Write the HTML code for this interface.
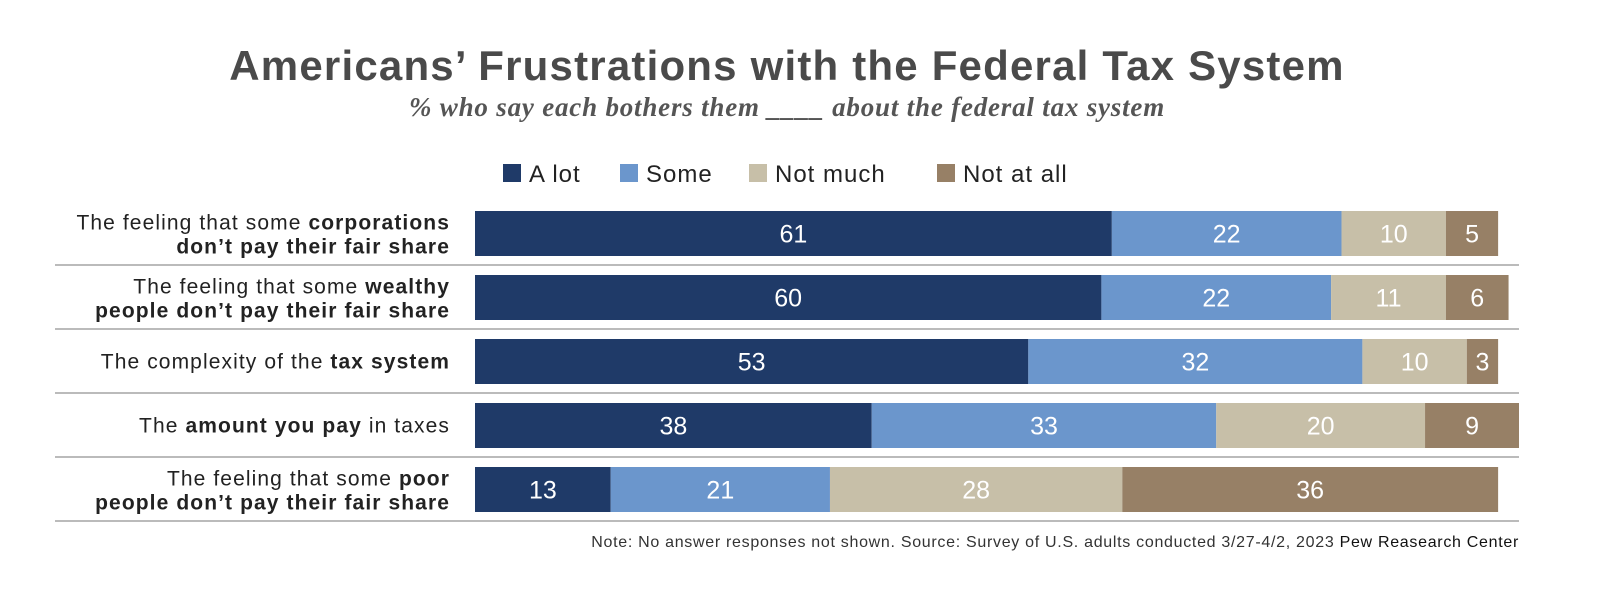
<!DOCTYPE html>
<html><head><meta charset="utf-8"><style>
body{margin:0;background:#fff;}
svg{display:block;font-family:"Liberation Sans",sans-serif;}
</style></head><body>
<svg id="chart" width="1623" height="600" viewBox="0 0 1623 600">
<text x="787" y="80" text-anchor="middle" font-size="42" font-weight="bold" letter-spacing="1.2" fill="#4a4a4a">Americans’ Frustrations with the Federal Tax System</text>
<text x="787" y="116" text-anchor="middle" font-size="27" font-weight="bold" font-style="italic" letter-spacing="0.8" font-family="Liberation Serif,serif" fill="#555">% who say each bothers them ____ about the federal tax system</text>
<g id="legend"></g>
<g id="rows"></g>
<text x="1519" y="547" text-anchor="end" font-size="16" letter-spacing="0.7" fill="#333">Note: No answer responses not shown. Source: Survey of U.S. adults conducted 3/27-4/2, 2023 <tspan fill="#111">Pew Reasearch Center</tspan></text>
</svg>
<script>
const categories=[["The feeling that some ","corporations","","don’t pay their fair share",true],["The feeling that some ","wealthy","","people don’t pay their fair share",true],["The complexity of the ","tax system","",null,false],["The ","amount you pay"," in taxes",null,false],["The feeling that some ","poor","","people don’t pay their fair share",true]];
const seriesNames=["A lot","Some","Not much","Not at all"];
const aLot=[61,60,53,38,13];
const some=[22,22,32,33,21];
const notMuch=[10,11,10,20,28];
const notAtAll=[5,6,3,9,36];
const colors=["#1f3a68","#6b96cc","#c7bfa8","#978066"];
const NS="http://www.w3.org/2000/svg";
const x0=475,scale=10.44,rowTop=211,pitch=64,barH=45;
const xs=v=>x0+v*scale;
function mk(t,a,p){const e=document.createElementNS(NS,t);for(const k in a)e.setAttribute(k,a[k]);p.appendChild(e);return e;}
const leg=document.getElementById('legend');
const legX=[503,620,749,937];
seriesNames.forEach((n,i)=>{
 const r=mk('rect',{x:legX[i],y:164,width:18,height:18,fill:colors[i]},leg);
 
 
 const t=mk('text',{x:legX[i]+26,y:182,'font-size':24,'letter-spacing':1,fill:'#222'},leg);
 
 
 t.textContent=n;
});
const rows=document.getElementById('rows');
const series=[aLot,some,notMuch,notAtAll];
categories.forEach((c,ri)=>{
 const y=rowTop+ri*pitch, cy=y+barH/2;
 const g=mk('g',{},rows);
 
 
 const lab=mk('text',{x:450,'text-anchor':'end','font-size':21,'letter-spacing':1.1,fill:'#222'},g);
 
 
 const ly=c[4]?cy-4:cy+7;
 const s1=mk('tspan',{x:450,y:ly},lab);s1.textContent=c[0];
 const s2=mk('tspan',{'font-weight':'bold'},lab);s2.textContent=c[1];
 if(c[2]){const s3=mk('tspan',{},lab);s3.textContent=c[2];}
 if(c[3]){const s4=mk('tspan',{x:450,y:cy+20,'font-weight':'bold'},lab);s4.textContent=c[3];}
 let acc=0;
 series.forEach((arr,si)=>{
  const v=arr[ri];
  const r=mk('rect',{x:xs(acc),y:y,width:v*scale,height:barH,fill:colors[si]},g);
  
  
  const t=mk('text',{x:xs(acc+v/2),y:cy+9,'text-anchor':'middle','font-size':25,fill:'#fff'},g);
  
  
  t.textContent=v;
  acc+=v;
 });
 const l=mk('line',{x1:55,x2:1519,y1:y+barH+9,y2:y+barH+9,stroke:'#bbb','stroke-width':2},g);
 
 
});
</script>
</body></html>
